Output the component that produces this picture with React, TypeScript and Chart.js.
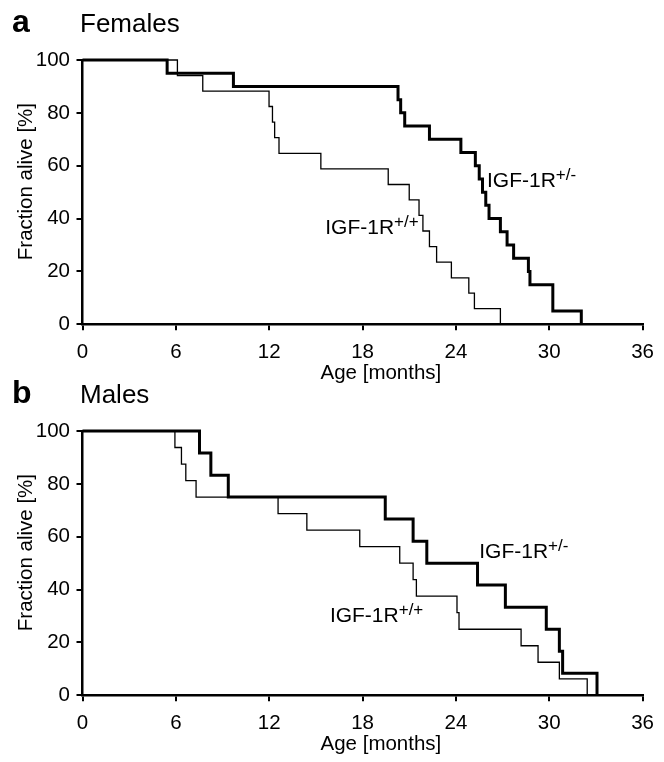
import React, { useEffect, useRef } from "react";
import { Chart, registerables } from "chart.js";

Chart.register(...registerables);

const FONT = '"Liberation Sans", Arial, Helvetica, sans-serif';

// axis ticks
const xTickValues = [0, 6, 12, 18, 24, 30, 36];
const yTickValues = [0, 20, 40, 60, 80, 100];

// Panel a: Females
const femaleWtMonths = [0, 6.1, 7.73, 11.99, 12.21, 12.35, 12.63, 15.32, 19.65, 21.0, 21.63, 21.88, 22.3, 22.76, 23.71, 24.83, 25.19, 26.86];
const femaleWtAlive = [100, 94.1, 88.2, 82.4, 76.5, 70.6, 64.7, 58.8, 52.9, 47.1, 41.2, 35.3, 29.4, 23.5, 17.6, 11.8, 5.9, 0];
const femaleHetMonths = [0, 5.44, 9.7, 20.28, 20.45, 20.71, 22.3, 24.32, 25.25, 25.5, 25.71, 25.92, 26.13, 26.86, 27.29, 27.71, 28.66, 28.76, 30.23, 32.06];
const femaleHetAlive = [100, 95, 90, 85, 80, 75, 70, 65, 60, 55, 50, 45, 40, 35, 30, 25, 20, 15, 5, 0];

// Panel b: Males
const maleWtMonths = [0, 5.94, 6.36, 6.64, 7.3, 12.57, 14.42, 17.82, 20.39, 21.25, 21.46, 24.07, 24.2, 28.19, 29.28, 30.65, 32.44];
const maleWtAlive = [100, 93.75, 87.5, 81.25, 75, 68.75, 62.5, 56.25, 50, 43.75, 37.5, 31.25, 25, 18.75, 12.5, 6.25, 0];
const maleHetMonths = [0, 7.52, 8.25, 9.37, 19.46, 21.25, 22.13, 25.39, 27.18, 29.81, 30.65, 30.86, 33.07];
const maleHetAlive = [100, 91.7, 83.3, 75, 66.7, 58.3, 50, 41.7, 33.3, 25, 16.7, 8.3, 0];

// series label anchors (data space)
const labelSups = ["+/+", "+/-"];
const femaleLabelMonths = [15.6, 26.0];
const femaleLabelAlive = [34.0, 52.1];
const maleLabelMonths = [15.9, 25.5];
const maleLabelAlive = [27.8, 51.8];

const toPoints = (xs: number[], ys: number[]) => xs.map((x, i) => ({ x, y: ys[i] }));

type PanelProps = {
  top: number;
  letter: string;
  title: string;
  wtX: number[];
  wtY: number[];
  hetX: number[];
  hetY: number[];
  labX: number[];
  labY: number[];
};

function Panel({ top, letter, title, wtX, wtY, hetX, hetY, labX, labY }: PanelProps) {
  const ref = useRef<HTMLCanvasElement>(null);
  useEffect(() => {
    if (!ref.current) return;
    const textPlugin = {
      id: "panelText",
      afterDraw(chart: any) {
        const { ctx } = chart;
        const x = chart.scales.x;
        const y = chart.scales.y;
        ctx.save();
        ctx.fillStyle = "#000";
        ctx.textAlign = "left";
        ctx.textBaseline = "alphabetic";
        ctx.font = `bold 32px ${FONT}`;
        ctx.fillText(letter, 12, 32);
        ctx.font = `26px ${FONT}`;
        ctx.fillText(title, 80, 32);
        labX.forEach((m, i) => {
          const px = x.getPixelForValue(m);
          const py = y.getPixelForValue(labY[i]);
          ctx.font = `21px ${FONT}`;
          ctx.fillText("IGF-1R", px, py);
          const w = ctx.measureText("IGF-1R").width;
          ctx.font = `17px ${FONT}`;
          ctx.fillText(labelSups[i], px + w, py - 7);
        });
        ctx.font = `20.5px ${FONT}`;
        ctx.textAlign = "center";
        ctx.textBaseline = "middle";
        ctx.fillText("Age [months]", x.getPixelForValue(19.18), y.bottom + 49.5);
        ctx.translate(26.7, y.getPixelForValue(54));
        ctx.rotate(-Math.PI / 2);
        ctx.fillText("Fraction alive [%]", 0, 0);
        ctx.restore();
      },
    };
    const tickFont = { family: FONT, size: 20.5 };
    const chart = new Chart(ref.current, {
      type: "line",
      data: {
        datasets: [
          {
            data: toPoints(wtX, wtY),
            borderColor: "#000",
            borderWidth: 1.3,
            stepped: "before",
            pointRadius: 0,
            fill: false,
            clip: false,
            borderJoinStyle: "miter",
          },
          {
            data: toPoints(hetX, hetY),
            borderColor: "#000",
            borderWidth: 3,
            stepped: "before",
            pointRadius: 0,
            fill: false,
            clip: false,
            borderJoinStyle: "miter",
          },
        ],
      } as any,
      options: {
        animation: false,
        responsive: false,
        events: [],
        layout: { padding: { top: 60, right: 11, bottom: 0, left: 0 } },
        plugins: {
          legend: { display: false },
          tooltip: { enabled: false },
          title: { display: false },
        },
        scales: {
          x: {
            type: "linear",
            min: 0,
            max: 36,
            afterBuildTicks: (s: any) => {
              s.ticks = xTickValues.map((v) => ({ value: v }));
            },
            ticks: { color: "#000", font: tickFont, padding: 10, maxRotation: 0, autoSkip: false },
            grid: { display: true, drawOnChartArea: false, drawTicks: true, tickLength: 6, color: "#000", lineWidth: 2 },
            border: { display: true, color: "#000", width: 2.5 },
            afterFit: (s: any) => {
              s.height = 66.7;
            },
          },
          y: {
            type: "linear",
            min: 0,
            max: 100,
            afterBuildTicks: (s: any) => {
              s.ticks = yTickValues.map((v) => ({ value: v }));
            },
            ticks: { color: "#000", font: tickFont, padding: 6.5, autoSkip: false },
            grid: { display: true, drawOnChartArea: false, drawTicks: true, tickLength: 6, color: "#000", lineWidth: 2 },
            border: { display: true, color: "#000", width: 2.5 },
            afterFit: (s: any) => {
              s.width = 82.5;
            },
          },
        },
      } as any,
      plugins: [textPlugin],
    });
    return () => chart.destroy();
  }, []);
  return (
    <canvas
      ref={ref}
      width={664}
      height={391}
      style={{ position: "absolute", left: 0, top, width: 664, height: 391, display: "block" }}
    />
  );
}

export default function App() {
  useEffect(() => {
    document.body.style.margin = "0";
    document.body.style.background = "#fff";
  }, []);
  return (
    <div style={{ position: "relative", width: 664, height: 762, background: "#fff", overflow: "hidden" }}>
      <Panel
        top={0}
        letter="a"
        title="Females"
        wtX={femaleWtMonths}
        wtY={femaleWtAlive}
        hetX={femaleHetMonths}
        hetY={femaleHetAlive}
        labX={femaleLabelMonths}
        labY={femaleLabelAlive}
      />
      <Panel
        top={371}
        letter="b"
        title="Males"
        wtX={maleWtMonths}
        wtY={maleWtAlive}
        hetX={maleHetMonths}
        hetY={maleHetAlive}
        labX={maleLabelMonths}
        labY={maleLabelAlive}
      />
    </div>
  );
}
